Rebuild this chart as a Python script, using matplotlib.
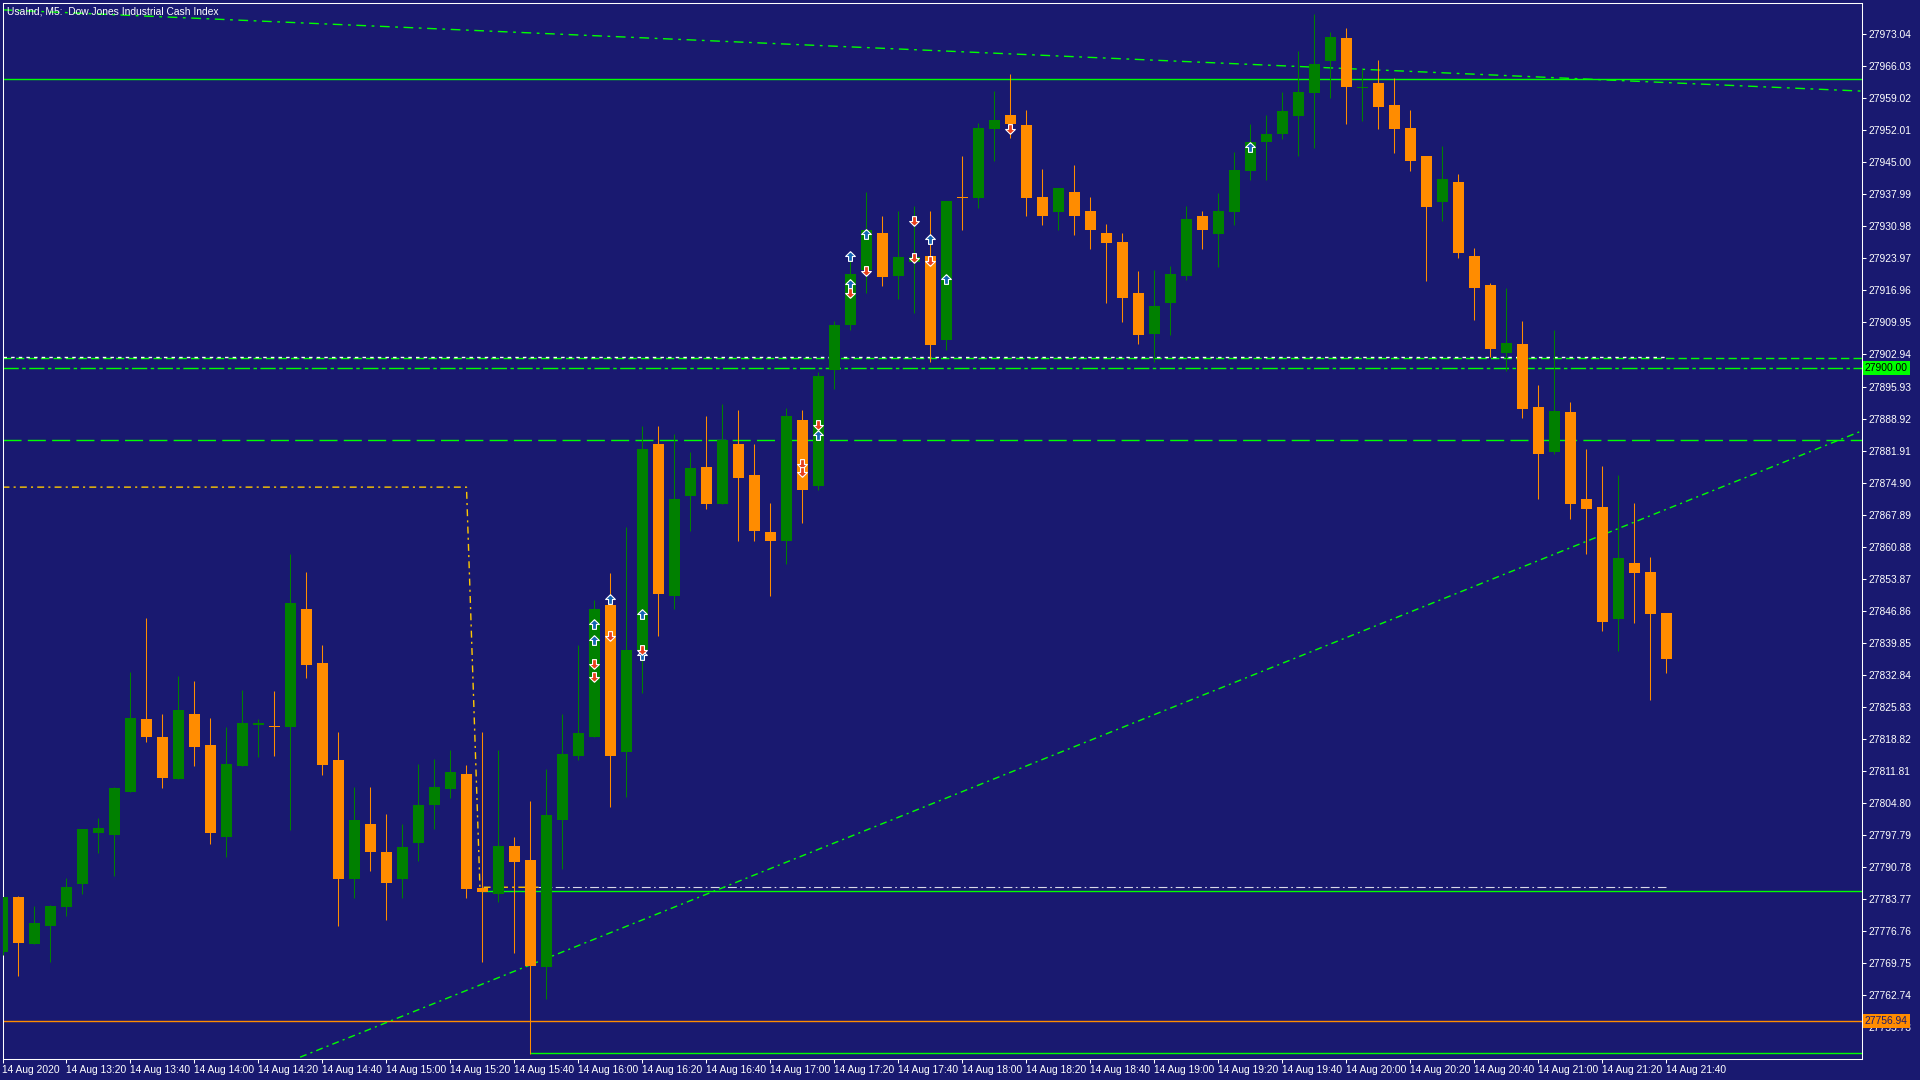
import numpy as np
import matplotlib.pyplot as plt

plt.rcParams['font.family'] = ['Liberation Sans Narrow', 'Liberation Sans', 'DejaVu Sans']

# UsaInd M5, 14 Aug 2020, bars from 13:00 to 21:40 (bar index 0..104)
opens = [27772.1, 27784.2, 27773.9, 27777.9, 27782.0, 27787.1, 27798.2, 27797.8, 27807.2, 27823.1,
         27819.2, 27810.1, 27824.2, 27817.4, 27797.2, 27812.9, 27821.9, 27821.4, 27821.3, 27847.2,
         27835.4, 27814.1, 27788.0, 27800.2, 27794.0, 27788.0, 27796.0, 27804.2, 27807.9, 27811.1,
         27786.2, 27784.9, 27795.3, 27792.3, 27768.9, 27801.1, 27815.1, 27819.3, 27848.1, 27816.0,
         27838.3, 27883.4, 27850.1, 27872.0, 27878.3, 27870.3, 27883.4, 27876.6, 27864.1, 27862.2,
         27888.6, 27874.2, 27899.6, 27909.3, 27921.5, 27929.6, 27920.2, 27923.1, 27924.5, 27906.2,
         27937.4, 27937.3, 27952.2, 27955.4, 27953.2, 27937.4, 27934.2, 27938.5, 27934.4, 27929.6,
         27927.6, 27916.4, 27907.5, 27914.3, 27920.2, 27933.3, 27929.4, 27934.2, 27943.2, 27949.5,
         27951.3, 27955.2, 27960.1, 27967.3, 27972.3, 27961.2, 27962.4, 27957.6, 27952.5, 27946.4,
         27936.4, 27940.7, 27924.5, 27918.2, 27903.3, 27905.3, 27891.5, 27881.5, 27890.4, 27871.3,
         27869.6, 27845.1, 27857.3, 27855.3, 27846.4]
highs = [27784.2, 27784.4, 27782.2, 27782.4, 27788.3, 27799.1, 27801.5, 27808.3, 27833.4, 27845.3,
         27824.2, 27832.6, 27831.5, 27823.4, 27821.4, 27829.5, 27823.1, 27829.3, 27859.2, 27855.3,
         27839.4, 27820.3, 27808.3, 27808.3, 27802.3, 27800.2, 27813.3, 27814.4, 27816.3, 27813.1,
         27820.3, 27816.3, 27797.3, 27805.2, 27812.2, 27824.2, 27839.3, 27849.2, 27855.1, 27865.2,
         27887.3, 27887.3, 27885.5, 27881.6, 27889.5, 27892.1, 27890.8, 27883.4, 27870.4, 27891.2,
         27890.8, 27899.0, 27910.3, 27924.6, 27938.5, 27933.3, 27934.4, 27935.5, 27934.4, 27936.6,
         27946.4, 27953.6, 27960.6, 27964.4, 27956.5, 27943.6, 27939.4, 27944.4, 27937.4, 27931.5,
         27929.6, 27921.2, 27921.5, 27922.3, 27935.5, 27934.4, 27938.3, 27947.3, 27953.4, 27955.4,
         27960.4, 27969.4, 27977.5, 27973.6, 27974.4, 27965.5, 27967.4, 27963.5, 27956.5, 27946.4,
         27948.6, 27942.5, 27926.3, 27918.6, 27917.5, 27910.3, 27896.3, 27908.3, 27892.6, 27882.3,
         27878.5, 27876.6, 27870.4, 27858.5, 27846.4]
lows = [27771.5, 27766.9, 27773.9, 27770.0, 27779.9, 27784.9, 27793.9, 27788.8, 27807.2, 27818.0,
        27808.1, 27810.1, 27812.9, 27795.8, 27793.0, 27812.9, 27814.9, 27815.1, 27798.9, 27832.2,
        27810.9, 27777.9, 27784.0, 27789.9, 27779.2, 27784.0, 27792.1, 27799.1, 27805.8, 27784.0,
        27770.0, 27783.1, 27771.9, 27749.9, 27761.9, 27790.2, 27814.2, 27819.3, 27803.9, 27806.1,
        27828.9, 27841.2, 27847.3, 27864.2, 27869.2, 27870.1, 27862.2, 27862.0, 27850.1, 27857.1,
        27866.1, 27873.3, 27895.4, 27908.2, 27916.3, 27918.0, 27915.0, 27912.1, 27901.4, 27904.0,
        27930.1, 27935.1, 27945.2, 27950.4, 27933.3, 27931.2, 27930.1, 27929.2, 27926.1, 27914.3,
        27910.1, 27905.3, 27901.4, 27907.1, 27919.3, 27926.1, 27922.2, 27931.2, 27941.2, 27941.2,
        27950.2, 27946.3, 27948.2, 27959.2, 27953.3, 27954.1, 27952.4, 27947.1, 27943.2, 27919.1,
        27932.2, 27924.1, 27910.4, 27902.3, 27899.4, 27889.1, 27871.2, 27881.2, 27867.0, 27859.3,
        27842.3, 27838.1, 27844.2, 27827.4, 27833.1]
closes = [27784.2, 27774.2, 27778.5, 27782.2, 27786.4, 27799.1, 27799.3, 27808.0, 27823.4, 27819.3,
          27810.3, 27825.1, 27817.1, 27798.2, 27813.3, 27822.3, 27822.3, 27821.3, 27848.5, 27835.0,
          27813.1, 27788.2, 27801.0, 27794.1, 27787.3, 27795.1, 27804.3, 27808.3, 27811.5, 27786.0,
          27785.2, 27795.3, 27791.9, 27769.1, 27802.1, 27815.5, 27820.1, 27847.2, 27815.1, 27838.3,
          27882.3, 27850.4, 27871.3, 27878.1, 27870.1, 27884.2, 27876.0, 27864.2, 27862.2, 27889.5,
          27873.3, 27898.2, 27909.5, 27920.6, 27930.2, 27920.0, 27924.3, 27924.3, 27905.1, 27936.6,
          27937.3, 27952.5, 27954.3, 27953.3, 27937.1, 27933.3, 27939.4, 27933.3, 27930.1, 27927.4,
          27915.4, 27907.1, 27913.6, 27920.6, 27932.6, 27930.1, 27934.4, 27943.4, 27949.5, 27951.2,
          27956.3, 27960.4, 27966.6, 27972.5, 27961.4, 27961.3, 27957.2, 27952.2, 27945.4, 27935.3,
          27941.4, 27925.2, 27917.4, 27904.2, 27905.5, 27891.1, 27881.2, 27890.6, 27870.3, 27869.2,
          27844.4, 27858.4, 27855.2, 27846.2, 27836.3]

time_labels = ['14 Aug 2020', '14 Aug 13:20', '14 Aug 13:40', '14 Aug 14:00', '14 Aug 14:20',
               '14 Aug 14:40', '14 Aug 15:00', '14 Aug 15:20', '14 Aug 15:40', '14 Aug 16:00',
               '14 Aug 16:20', '14 Aug 16:40', '14 Aug 17:00', '14 Aug 17:20', '14 Aug 17:40',
               '14 Aug 18:00', '14 Aug 18:20', '14 Aug 18:40', '14 Aug 19:00', '14 Aug 19:20',
               '14 Aug 19:40', '14 Aug 20:00', '14 Aug 20:20', '14 Aug 20:40', '14 Aug 21:00',
               '14 Aug 21:20', '14 Aug 21:40']

price_ticks = [27973.04, 27966.03, 27959.02, 27952.01, 27945.00, 27937.99, 27930.98, 27923.97,
               27916.96, 27909.95, 27902.94, 27895.93, 27888.92, 27881.91, 27874.90, 27867.89,
               27860.88, 27853.87, 27846.86, 27839.85, 27832.84, 27825.83, 27818.82, 27811.81,
               27804.80, 27797.79, 27790.78, 27783.77, 27776.76, 27769.75, 27762.74, 27755.73]

# trade arrows (bar index, price)
buy_bars = [37, 37, 38, 40, 40, 51, 53, 53, 54, 58, 59, 78]
buy_prices = [27843.9, 27840.4, 27849.4, 27846.1, 27837.1, 27885.3, 27924.6, 27918.4, 27929.4,
              27928.2, 27919.5, 27948.4]
sell_bars = [37, 37, 38, 40, 50, 50, 51, 53, 54, 57, 57, 58, 63]
sell_prices = [27835.2, 27832.4, 27841.2, 27838.3, 27879.0, 27877.3, 27887.5, 27916.5, 27921.3,
               27932.2, 27924.1, 27923.3, 27952.4]

# chart objects
top_level = 27963.2
level_900 = 27900.00
dots_level = 27902.3
dash_level = 27902.1
long_dash_level = 27884.2
low_level = 27785.4
range_line = 27786.3
bid_price = 27756.94
day_low = 27750.0
box_top = 27873.9
desc_trend_x = [0, 116.2]
desc_trend_y = [27978.4, 27960.6]
asc_trend_x = [18.6, 116.2]
asc_trend_y = [27749.1, 27886.2]

bg = '#191970'
bull = '#008000'
bear = '#ff8c00'
lime = '#00ff00'
fs = 7.4

fig = plt.figure(figsize=(19.2, 10.8), dpi=100, facecolor=bg)
ax = fig.add_axes([2.5 / 1920, 21 / 1080, 1859.5 / 1920, 1056.5 / 1080])
ax.set_facecolor(bg)

# lines / objects
ax.axhline(top_level, color=lime, lw=1, zorder=2)
ax.axhline(level_900, color=lime, lw=1, ls=(0, (11, 2.5, 2.5, 2.5)), zorder=2)
ax.axhline(dash_level, color=lime, lw=1, ls=(0, (6, 3)), zorder=2)
ax.hlines(dots_level, 0, 104, color='white', lw=1, ls=(0, (2.5, 3)), zorder=2)
ax.axhline(long_dash_level, color=lime, lw=1, ls=(0, (13, 4.5)), zorder=2)
ax.axhline(bid_price, color=bear, lw=1, zorder=2)
ax.hlines(low_level, 29.84, 117, color=lime, lw=1, zorder=2)
ax.hlines(day_low, 33, 117, color=lime, lw=1, zorder=2)
ax.hlines(range_line, 33.5, 104, color='#d8d8e8', lw=0.8, ls=(0, (8, 3, 1.5, 3)), zorder=2)
ax.plot([0, 29.0, 29.84, 33.5], [box_top, box_top, range_line, range_line],
        color='#ffc800', lw=1, ls=(0, (5, 3, 1.5, 3)), zorder=2)
ax.plot(desc_trend_x, desc_trend_y, color=lime, lw=1, ls=(0, (7, 4, 2, 4)), zorder=2)
ax.plot(asc_trend_x, asc_trend_y, color=lime, lw=1, ls=(0, (5, 3, 1.5, 3)), zorder=2)

# candles
idx = np.arange(len(opens))
o = np.array(opens)
c = np.array(closes)
colors = np.where(c >= o, bull, bear)
bottoms = np.minimum(o, c)
heights = np.maximum(np.abs(c - o), 0.22)
ax.vlines(idx, lows, highs, colors=colors, lw=0.75, zorder=3)
ax.bar(idx, heights, bottom=bottoms, width=0.69, color=colors, lw=0, zorder=4)

# trade arrows
up_arrow = [(0, 1), (1, 0), (0.4, 0), (0.4, -1), (-0.4, -1), (-0.4, 0), (-1, 0), (0, 1)]
down_arrow = [(x, -y) for x, y in up_arrow]
ax.plot(buy_bars, buy_prices, ls='none', marker=up_arrow, ms=7, mfc='#1464b4', mec='white',
        mew=0.8, zorder=5)
ax.plot(sell_bars, sell_prices, ls='none', marker=down_arrow, ms=7, mfc='#e8401c', mec='white',
        mew=0.8, zorder=5)

ax.set_xlim(0, 116.22)
ax.set_ylim(27748.7, 27980.0)

ax.set_xticks(range(0, 105, 4))
ax.set_xticklabels(time_labels, ha='left')
ax.yaxis.tick_right()
ax.set_yticks(price_ticks)
ax.set_yticklabels([f'{v:.2f}' for v in price_ticks])
ax.tick_params(colors='white', labelcolor='white', length=3, width=0.75, labelsize=fs, pad=1.5)
for s in ax.spines.values():
    s.set_color('white')
    s.set_linewidth(0.75)

ax.text(1.0016, level_900, f'{level_900:.2f}', transform=ax.get_yaxis_transform(), ha='left',
        va='center', fontsize=fs, color='black',
        bbox=dict(boxstyle='square,pad=0.2', fc=lime, ec='none'), clip_on=False)
ax.text(1.0016, bid_price, f'{bid_price:.2f}', transform=ax.get_yaxis_transform(), ha='left',
        va='center', fontsize=fs, color='#191970',
        bbox=dict(boxstyle='square,pad=0.2', fc=bear, ec='none'), clip_on=False)

ax.text(0.0025, 0.996, 'UsaInd, M5:  Dow Jones Industrial Cash Index', transform=ax.transAxes,
        ha='left', va='top', fontsize=fs, color='white', zorder=6)

fig.savefig('out.png', dpi=100, facecolor=bg)
